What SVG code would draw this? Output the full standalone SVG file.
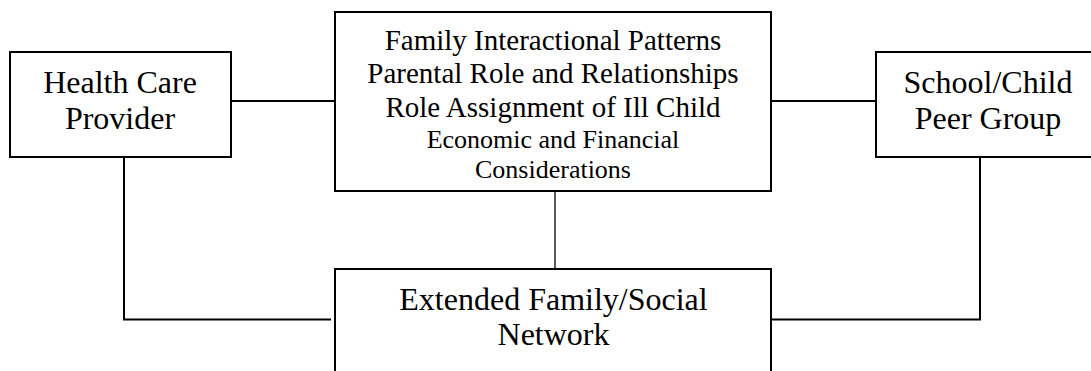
<svg xmlns="http://www.w3.org/2000/svg" width="1091" height="371" viewBox="0 0 1091 371">
<style>
.box{fill:#fff;stroke:#000;stroke-width:2}
.con{fill:none;stroke:#000;stroke-width:2}
.thin{stroke-width:1.3}
text{font-family:"Liberation Serif","Times New Roman",serif;fill:#000;text-anchor:middle}
.big{font-size:32px}
.mid{font-size:29px}
.sm{font-size:26px}
</style>
<rect width="1091" height="371" fill="#fff"/>
<g id="connectors">
<line class="con" x1="231" y1="101" x2="335" y2="101"/>
<line class="con" x1="771" y1="101" x2="876" y2="101"/>
<line class="con thin" x1="555" y1="191" x2="555" y2="269"/>
<polyline class="con" points="124,157 124,319.5 331,319.5"/>
<polyline class="con" points="980,157 980,319.5 771,319.5"/>
</g>
<g id="health-care-provider">
<rect class="box" x="10" y="52" width="221" height="105"/>
<text class="big" x="120" y="93">Health Care</text>
<text class="big" x="120" y="129">Provider</text>
</g>
<g id="family">
<rect class="box" x="335" y="12" width="436" height="179"/>
<text class="mid" x="553" y="50">Family Interactional Patterns</text>
<text class="mid" x="553" y="83">Parental Role and Relationships</text>
<text class="mid" x="553" y="116.5">Role Assignment of Ill Child</text>
<text class="sm" x="553" y="148">Economic and Financial</text>
<text class="sm" x="553" y="178">Considerations</text>
</g>
<g id="school-peer-group">
<rect class="box" x="876" y="52" width="223" height="105"/>
<text class="big" x="988" y="93">School/Child</text>
<text class="big" x="988" y="129">Peer Group</text>
</g>
<g id="extended-family">
<rect class="box" x="335" y="269" width="436" height="150"/>
<text class="big" x="553.5" y="310">Extended Family/Social</text>
<text class="big" x="553.5" y="345">Network</text>
</g>
</svg>
